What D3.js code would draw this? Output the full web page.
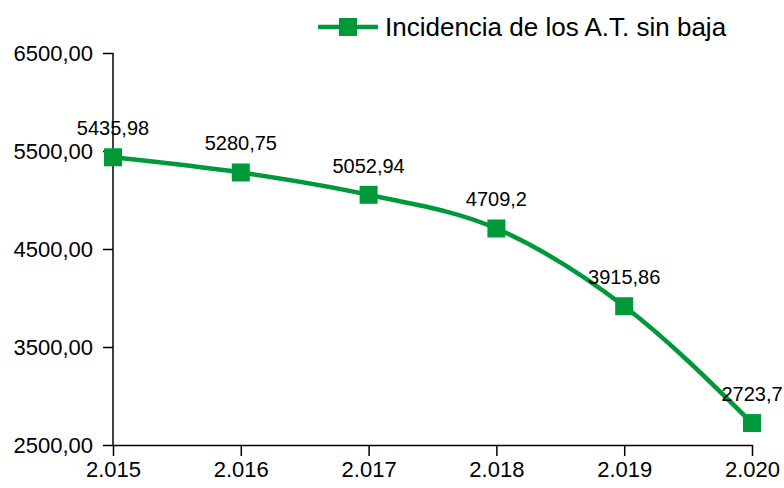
<!DOCTYPE html>
<html>
<head>
<meta charset="utf-8">
<script src="https://cdn.jsdelivr.net/npm/d3@7"></script>
<style>
  body { margin: 0; background: #fff; }
  text { font-family: "Liberation Sans", Arial, sans-serif; fill: #000; }
</style>
</head>
<body>
<div id="chart"></div>
<script>
// chart data
const years = ['2.015', '2.016', '2.017', '2.018', '2.019', '2.020'];
const incidencia = [5435.98, 5280.75, 5052.94, 4709.2, 3915.86, 2723.7];
const valueLabels = ['5435,98', '5280,75', '5052,94', '4709,2', '3915,86', '2723,7'];
const yTicks = [2500, 3500, 4500, 5500, 6500];
const seriesName = 'Incidencia de los A.T. sin baja';

const width = 784, height = 488;
const margin = {top: 53, right: 32, bottom: 43, left: 113};
const green = '#00993a';

const svg = d3.select('#chart').append('svg')
    .attr('width', width)
    .attr('height', height);

const x = d3.scalePoint()
    .domain(years)
    .range([margin.left, width - margin.right]);

const y = d3.scaleLinear()
    .domain([2500, 6500])
    .range([height - margin.bottom, margin.top]);

const fmt = d => d3.format('.2f')(d).replace('.', ',');

// y axis
const yAxisG = svg.append('g')
    .attr('transform', `translate(${margin.left},0)`)
    .call(d3.axisLeft(y).tickValues(yTicks).tickFormat(fmt).tickSize(10).tickSizeOuter(0).tickPadding(10));

// x axis
const xAxisG = svg.append('g')
    .attr('transform', `translate(0,${height - margin.bottom})`)
    .call(d3.axisBottom(x).tickSize(11).tickSizeOuter(0).tickPadding(5));

[yAxisG, xAxisG].forEach(g => {
    g.selectAll('path, line').attr('stroke', '#000').attr('stroke-width', 1.5);
    g.selectAll('text').style('font-family', '"Liberation Sans", Arial, sans-serif')
        .style('font-size', '22px').attr('fill', '#000');
});
yAxisG.select('.domain').attr('d', `M0,${y(6500)}V${y(2500)}`);

// line
const line = d3.line()
    .x((d, i) => x(years[i]))
    .y(d => y(d))
    .curve(d3.curveMonotoneX);

svg.append('path')
    .datum(incidencia)
    .attr('fill', 'none')
    .attr('stroke', green)
    .attr('stroke-width', 4.5)
    .attr('d', line);

// markers
const ms = 18;
svg.selectAll('.marker')
    .data(incidencia)
    .enter().append('rect')
    .attr('class', 'marker')
    .attr('x', (d, i) => x(years[i]) - ms / 2)
    .attr('y', d => y(d) - ms / 2)
    .attr('width', ms)
    .attr('height', ms)
    .attr('fill', green);

// value labels
svg.selectAll('.vlabel')
    .data(incidencia)
    .enter().append('text')
    .attr('class', 'vlabel')
    .attr('x', (d, i) => x(years[i]))
    .attr('y', d => y(d) - 22)
    .attr('text-anchor', 'middle')
    .style('font-size', '20px')
    .text((d, i) => valueLabels[i]);

// legend
const legend = svg.append('g').attr('transform', 'translate(318,27)');
legend.append('line')
    .attr('x1', 0).attr('x2', 60).attr('y1', 0).attr('y2', 0)
    .attr('stroke', green).attr('stroke-width', 4.5);
legend.append('rect')
    .attr('x', 30 - ms / 2).attr('y', -ms / 2)
    .attr('width', ms).attr('height', ms)
    .attr('fill', green);
legend.append('text')
    .attr('x', 67).attr('y', 0).attr('dy', '0.35em')
    .style('font-size', '26px')
    .text(seriesName);
</script>
</body>
</html>
